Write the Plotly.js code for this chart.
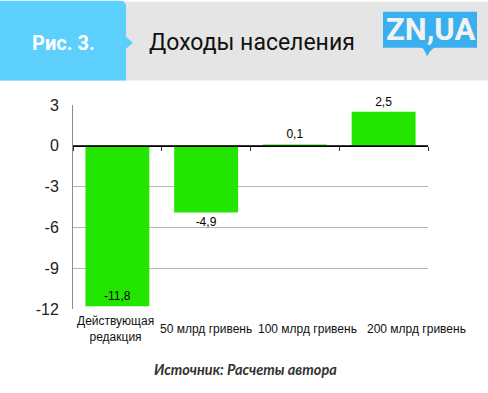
<!DOCTYPE html>
<html><head><meta charset="utf-8">
<script src="https://cdn.plot.ly/plotly-3.0.1.min.js"></script>
<style>html,body{margin:0;padding:0;background:#fff}#c{width:488px;height:393px}</style>
</head><body><div id="c"></div>
<script>
const categories = ['Действующая<br>редакция', '50 млрд гривень', '100 млрд гривень', '200 млрд гривень'];
const values = [-11.8, -4.9, 0.1, 2.5];
const textPositions = ['inside', 'outside', 'outside', 'outside'];
const yTicks = [3, 0, -3, -6, -9, -12];
const figLabel = 'Рис. 3.';
const titleText = 'Доходы населения';
const logoText = 'ZN,UA';
const sourceText = 'Источник: Расчеты автора';

const W = 488, H = 393;
const L = 73, R = 60, T = 104.5, B = 84;
const PW = W - L - R, PH = H - T - B;
const px = x => (x - L) / PW;
const py = y => 1 - (y - T) / PH;
const P = (x, y) => px(x).toFixed(5) + ',' + py(y).toFixed(5);

const labels = values.map(v => v.toFixed(1).replace('.', ','));
// horizontal offsets of category labels (as laid out in the original, avoiding overlap)
const labelShifts = [-2, 0, 13, 33];
const xr = [-0.5, categories.length - 0.5];

const traces = [{
  type: 'bar', x: categories, y: values, width: 0.72,
  marker: {color: '#22e600', line: {width: 0}},
  text: labels, textposition: textPositions, insidetextanchor: 'end',
  textfont: {family: 'Liberation Sans, Arial', size: 12, color: '#000'},
  insidetextfont: {color: '#000'}, outsidetextfont: {color: '#000'},
  cliponaxis: false, hoverinfo: 'skip', showlegend: false
}, {
  type: 'bar', x: categories, y: values, xaxis: 'x2', yaxis: 'y',
  marker: {color: 'rgba(0,0,0,0)'}, hoverinfo: 'skip', showlegend: false
}];

const yr = [Math.min(...yTicks), Math.max(...yTicks)];
const zeroPos = (0 - yr[0]) / (yr[1] - yr[0]);

const catAnnotations = categories.map((c, i) => ({
  xref: 'x', yref: 'paper', x: c, y: py(329), text: c, showarrow: false,
  xanchor: 'center', yanchor: 'middle', xshift: labelShifts[i], align: 'center',
  font: {family: 'Liberation Sans, Arial', size: 12, color: '#111'}
}));

const layout = {
  width: W, height: H,
  margin: {l: L, r: R, t: T, b: B, pad: 0},
  paper_bgcolor: '#fff', plot_bgcolor: '#fff',
  showlegend: false,
  xaxis: {type: 'category', range: xr, autorange: false, showline: false, showgrid: false, zeroline: false, ticks: '',
    showticklabels: false, fixedrange: true},
  xaxis2: {type: 'category', range: xr, autorange: false, overlaying: 'x', anchor: 'free', position: zeroPos,
    showline: true, linecolor: '#000', linewidth: 1, showgrid: false, zeroline: false,
    ticks: 'outside', ticklen: 4, tickcolor: '#333', tickwidth: 1, tickson: 'boundaries',
    showticklabels: false},
  yaxis: {range: yr, tickvals: yTicks, ticktext: yTicks.map(String),
    showline: true, linecolor: '#8c8c8c', linewidth: 1, mirror: false,
    showgrid: true, gridcolor: '#b5b5b5', gridwidth: 1, zeroline: false,
    ticks: '', ticklabelstandoff: 10,
    tickfont: {family: 'Liberation Sans, Arial', size: 16, color: '#222'}},
  shapes: [
    {type: 'rect', xref: 'paper', yref: 'paper', x0: px(0), x1: px(488), y0: py(1), y1: py(80),
      fillcolor: '#e5e5e5', line: {width: 0}, layer: 'below'},
    {type: 'path', xref: 'paper', yref: 'paper',
      path: 'M' + P(0,0) + ' L' + P(120,0) + ' Q' + P(126,0) + ' ' + P(126,6) + ' L' + P(126,36) +
            ' L' + P(133,42) + ' L' + P(126,48) + ' L' + P(126,80) + ' L' + P(0,80) + ' Z',
      fillcolor: '#5dcffd', line: {width: 0}, layer: 'below'},
    {type: 'rect', xref: 'paper', yref: 'paper', x0: px(383), x1: px(477), y0: py(11), y1: py(47),
      fillcolor: '#3aaff0', line: {width: 0}, layer: 'below'},
    {type: 'path', xref: 'paper', yref: 'paper',
      path: 'M' + P(420,46) + ' Q' + P(425,48) + ' ' + P(427,56) + ' Q' + P(430,49) + ' ' + P(436,46) + ' Z',
      fillcolor: '#3aaff0', line: {width: 0}, layer: 'below'},
    {type: 'line', xref: 'paper', yref: 'y', x0: 0, x1: 1, y0: 0, y1: 0, line: {color: '#000', width: 1}}
  ],
  annotations: catAnnotations.concat([
    {xref: 'paper', yref: 'paper', x: px(63), y: py(42), text: figLabel, showarrow: false,
      xanchor: 'center', yanchor: 'middle',
      font: {family: 'Roboto, Liberation Sans', size: 20, color: '#fff', weight: 700}},
    {xref: 'paper', yref: 'paper', x: px(147), y: py(42), text: titleText, showarrow: false,
      xanchor: 'left', yanchor: 'middle',
      font: {family: 'Roboto, Liberation Sans', size: 23, color: '#111', weight: 400}},
    {xref: 'paper', yref: 'paper', x: px(430), y: py(29), text: logoText, showarrow: false,
      xanchor: 'center', yanchor: 'middle',
      font: {family: 'Roboto, Liberation Sans', size: 31, color: '#f2f2f2', weight: 700}},
    {xref: 'paper', yref: 'paper', x: px(245), y: py(370), text: sourceText, showarrow: false,
      xanchor: 'center', yanchor: 'middle',
      font: {family: 'Lato, Open Sans', size: 14.5, color: '#333', weight: 700, style: 'italic'}}
  ]),
  separators: ', '
};

Plotly.newPlot('c', traces, layout, {displayModeBar: false, staticPlot: true});
</script>
</body></html>
